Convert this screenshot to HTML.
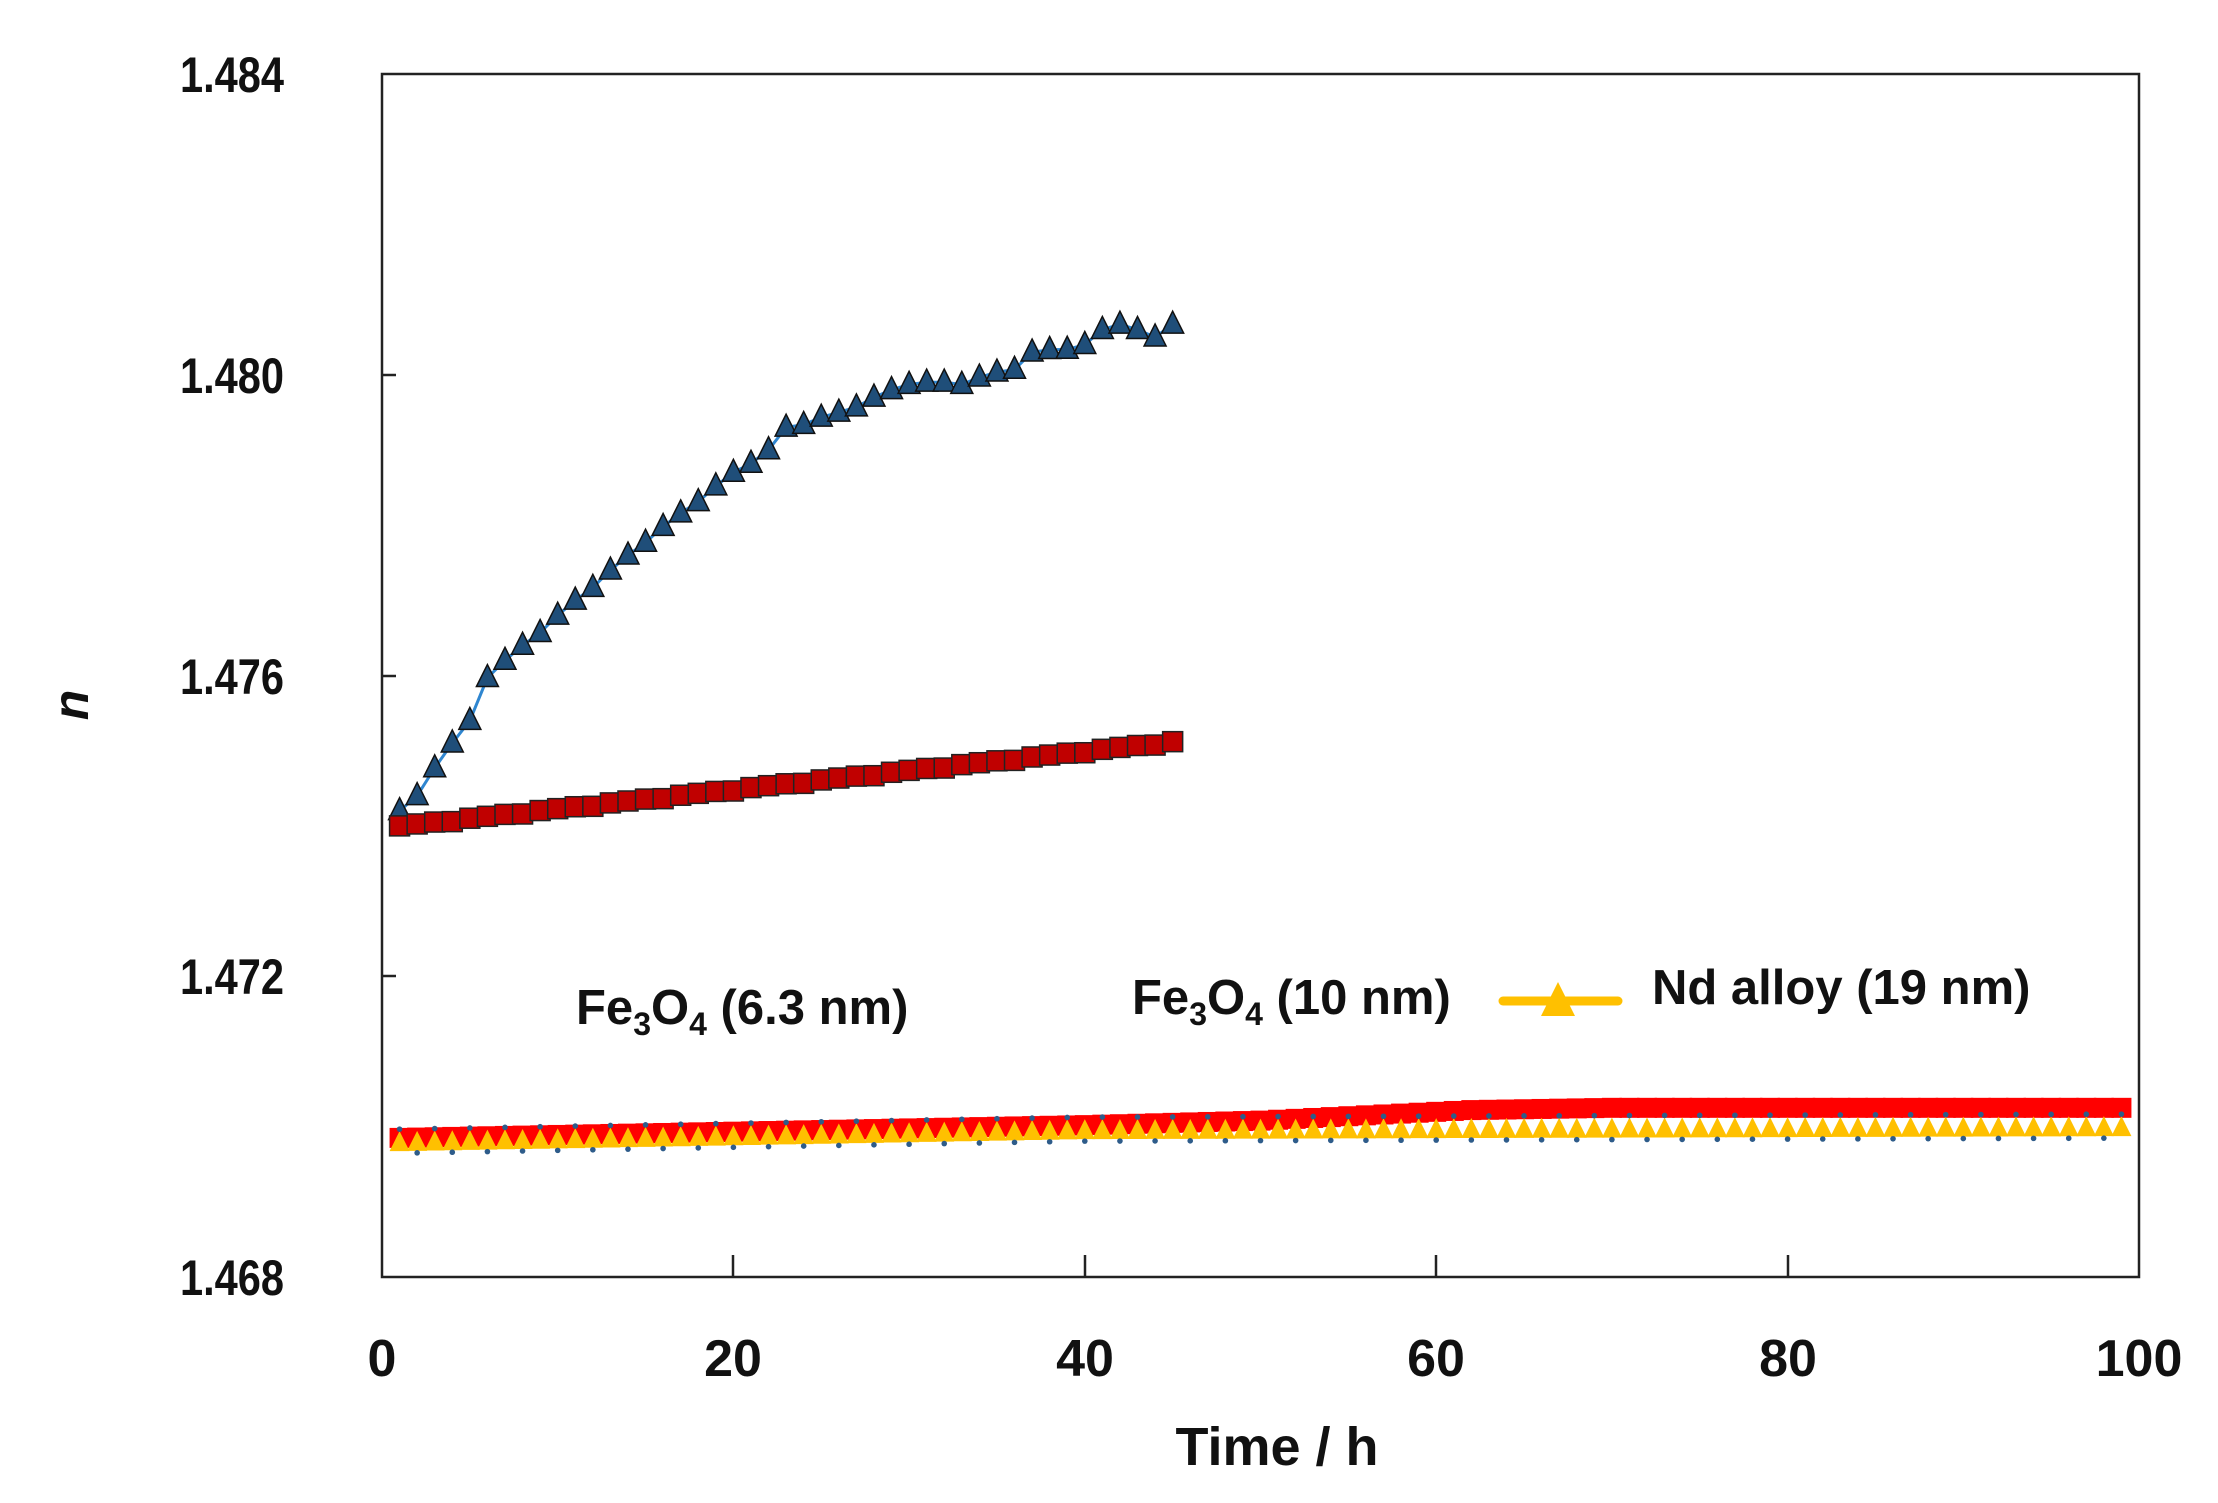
<!DOCTYPE html>
<html><head><meta charset="utf-8"><style>
html,body{margin:0;padding:0;background:#fff;}
svg{display:block;}
text{font-family:"Liberation Sans",sans-serif;font-weight:bold;fill:#111;}
</style></head><body>
<svg id="s" width="2218" height="1503" xmlns="http://www.w3.org/2000/svg">
<rect x="382" y="74" width="1757" height="1203" fill="none" stroke="#222" stroke-width="2.5"/>
<g stroke="#222" stroke-width="2.5">
<line x1="382" y1="375" x2="396" y2="375"/><line x1="382" y1="676" x2="396" y2="676"/><line x1="382" y1="976" x2="396" y2="976"/>
<line x1="733" y1="1277" x2="733" y2="1255"/><line x1="1085" y1="1277" x2="1085" y2="1255"/><line x1="1436" y1="1277" x2="1436" y2="1255"/><line x1="1788" y1="1277" x2="1788" y2="1255"/>
</g>
<g font-size="50" text-anchor="end">
<text x="284" y="92" textLength="104" lengthAdjust="spacingAndGlyphs">1.484</text><text x="284" y="393" textLength="104" lengthAdjust="spacingAndGlyphs">1.480</text><text x="284" y="694" textLength="104" lengthAdjust="spacingAndGlyphs">1.476</text><text x="284" y="994" textLength="104" lengthAdjust="spacingAndGlyphs">1.472</text><text x="284" y="1295" textLength="104" lengthAdjust="spacingAndGlyphs">1.468</text>
</g>
<g font-size="52" text-anchor="middle">
<text x="382" y="1376">0</text><text x="733" y="1376">20</text><text x="1085" y="1376">40</text><text x="1436" y="1376">60</text><text x="1788" y="1376">80</text><text x="2139" y="1376">100</text>
<text x="1277" y="1465" font-size="54">Time / h</text>
</g>
<text x="0" y="0" font-size="50" font-style="italic" text-anchor="middle" transform="translate(88,705) rotate(-90)">n</text>
<g font-size="49">
<text x="576" y="1024">Fe<tspan font-size="32" dy="11">3</tspan><tspan dy="-11">O</tspan><tspan font-size="32" dy="11">4</tspan><tspan dy="-11"> (6.3 nm)</tspan></text>
<text x="1132" y="1014">Fe<tspan font-size="32" dy="11">3</tspan><tspan dy="-11">O</tspan><tspan font-size="32" dy="11">4</tspan><tspan dy="-11"> (10 nm)</tspan></text>
<text x="1652" y="1004">Nd alloy (19 nm)</text>
</g>
<line x1="1503" y1="1001" x2="1618" y2="1001" stroke="#ffc000" stroke-width="9" stroke-linecap="round"/>
<polygon points="1558,982 1575,1016 1541,1016" fill="#ffc000"/>
<g id="d"></g>
</svg>
<script>
var g=document.getElementById('d'),h='';
function X(t){return 382+t*17.57;}
function Y(n){return 74+(1.484-n)/0.004*300.75;}
function interp(k,t){for(var i=0;i<k.length-1;i++){if(t<=k[i+1][0]){var a=k[i],b=k[i+1];return a[1]+(b[1]-a[1])*(t-a[0])/(b[0]-a[0]);}}return k[k.length-1][1];}
function tri(x,y,s,f,st,sw){return '<polygon points="'+x+','+(y-s*0.6)+' '+(x+s/2)+','+(y+s*0.4)+' '+(x-s/2)+','+(y+s*0.4)+'" fill="'+f+'" stroke="'+st+'" stroke-width="'+sw+'"/>';}
var i,t,n;
for(t=1;t<=99;t++){n=interp([[1,1.46985],[40,1.47002],[50,1.47008],[62,1.47022],[70,1.47025],[99,1.47025]],t);
h+='<rect x="'+(X(t)-10)+'" y="'+(Y(n)-10)+'" width="20" height="20" fill="#ff0000"/>';}
for(t=1;t<=99;t++){n=interp([[1,1.46982],[40,1.46998],[99,1.47002]],t);
h+=tri(X(t),Y(n)+3,20,'#ffc000','none',0);
h+='<circle cx="'+X(t)+'" cy="'+(Y(n)+(t%2?-11:13))+'" r="2.8" fill="#2e5c8a"/>';}
var kb=[[1,1.4742],[2,1.4744],[3,1.4748],[4,1.4751],[5,1.4754],[6,1.4760],[7,1.4762],[10,1.4768],[15,1.4778],[20,1.4787],[22,1.4790],[23,1.4793],[26,1.4795],[30,1.4799],[33,1.4799],[36,1.4801],[37,1.4803],[40,1.4804],[41,1.4806],[42,1.4807],[43,1.4806],[44,1.4805],[45,1.4807]];
var pts=[],bl='';
for(t=1;t<=45;t++){n=interp(kb,t)+((t%3==0)?-0.00003:0);pts.push(X(t)+','+Y(n));bl+=tri(X(t),Y(n),22,'#1f4e79','#111',1.5);}
h+='<polyline points="'+pts.join(' ')+'" fill="none" stroke="#2f86d0" stroke-width="3"/>'+bl;
for(t=1;t<=45;t++){n=1.4740+(t-1)/44*0.00112+((t%4==0)?-0.00002:0);
h+='<rect x="'+(X(t)-10)+'" y="'+(Y(n)-10)+'" width="20" height="20" fill="#c00000" stroke="#222" stroke-width="1.5"/>';}
g.innerHTML=h;
</script>
</body></html>
